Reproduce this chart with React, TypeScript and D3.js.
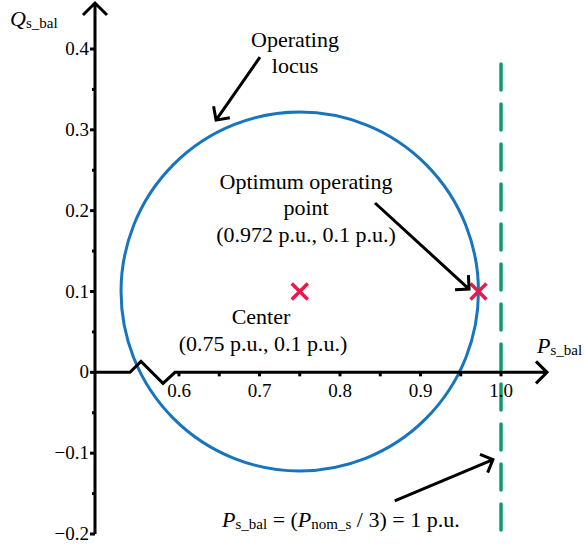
import React from "react";
import * as d3 from "d3";

// chart values
const centerPoint = [0.75, 0.1];
const optimumPoint = [0.972, 0.1];
const nominalP = 1.0;
const locusRadius = optimumPoint[0] - centerPoint[0];

const xTicks = [0.6, 0.7, 0.8, 0.9, 1.0];
const xTickLabels = ["0.6", "0.7", "0.8", "0.9", "1.0"];
const xMinorTicks = [0.65, 0.75, 0.85, 0.95];

const yTicks = [0.4, 0.3, 0.2, 0.1, 0, -0.1, -0.2];
const yTickLabels = ["0.4", "0.3", "0.2", "0.1", "0", "\u22120.1", "\u22120.2"];
const yMinorTicks = [0.35, 0.25, 0.15, 0.05, -0.05, -0.15];

const width = 584,
  height = 551;
const font = "Liberation Serif, Times New Roman, DejaVu Serif, serif";
const blue = "#1775c0";
const red = "#e8194b";
const green = "#0e9b72";

const x = d3.scaleLinear().domain([0.6, 1.0]).range([179, 501]);
const y = d3.scaleLinear().domain([-0.2, 0.4]).range([534, 49]);

const axisX = 95; // y axis sits left of the break
const axisY = y(0);

// line + open arrow head
const arrow = (x1: number, y1: number, x2: number, y2: number, len = 14) => {
  const a = Math.atan2(y1 - y2, x1 - x2);
  const h1 = [x2 + len * Math.cos(a - Math.PI / 4), y2 + len * Math.sin(a - Math.PI / 4)];
  const h2 = [x2 + len * Math.cos(a + Math.PI / 4), y2 + len * Math.sin(a + Math.PI / 4)];
  return `M${x1},${y1}L${x2},${y2}M${h1[0]},${h1[1]}L${x2},${y2}L${h2[0]},${h2[1]}`;
};

const Cross = ({ cx, cy }: { cx: number; cy: number }) => (
  <path
    d={`M${cx - 8},${cy - 8}L${cx + 8},${cy + 8}M${cx - 8},${cy + 8}L${cx + 8},${cy - 8}`}
    stroke={red}
    strokeWidth={3.5}
  />
);

export default function App() {
  const cx = x(centerPoint[0]);
  const cy = y(centerPoint[1]);
  const rx = x(centerPoint[0] + locusRadius) - cx;
  const ry = cy - y(centerPoint[1] + locusRadius);

  // x axis with break marker
  const xAxisPath =
    `M${axisX},${axisY}L130,${axisY}L141,${axisY - 11}L163,${axisY + 11}L175,${axisY}L547,${axisY}` +
    `M536,${axisY - 11}L547,${axisY}L536,${axisY + 11}`;
  const yAxisPath = `M${axisX},${y(-0.2)}L${axisX},3M83,15L${axisX},3L107,15`;

  return (
    <svg
      width={width}
      height={height}
      style={{ display: "block", position: "absolute", left: 0, top: 0, background: "#fff", fontFamily: font }}
    >
      {/* locus circle */}
      <ellipse cx={cx} cy={cy} rx={rx} ry={ry} fill="none" stroke={blue} strokeWidth={3} />

      {/* nominal P line */}
      <line
        x1={x(nominalP)}
        x2={x(nominalP)}
        y1={64}
        y2={535}
        stroke={green}
        strokeWidth={3.5}
        strokeDasharray="26 14"
        strokeLinecap="round"
      />

      {/* axes */}
      <path d={xAxisPath} fill="none" stroke="#000" strokeWidth={3} strokeLinejoin="miter" />
      <path d={yAxisPath} fill="none" stroke="#000" strokeWidth={3} />

      {xTicks.concat(xMinorTicks).map((t) => (
        <line key={"xt" + t} x1={x(t)} x2={x(t)} y1={axisY} y2={axisY + 4} stroke="#000" strokeWidth={3} />
      ))}
      {xTicks.map((t, i) => (
        <text key={"xl" + t} x={x(t)} y={397} fontSize={19} textAnchor="middle">
          {xTickLabels[i]}
        </text>
      ))}

      {yTicks.map((t) => (
        <line key={"yt" + t} x1={axisX - 5} x2={axisX} y1={y(t)} y2={y(t)} stroke="#000" strokeWidth={3} />
      ))}
      {yMinorTicks.map((t) => (
        <line key={"ym" + t} x1={axisX - 3} x2={axisX} y1={y(t)} y2={y(t)} stroke="#000" strokeWidth={3} />
      ))}
      {yTicks.map((t, i) => (
        <text key={"yl" + t} x={89} y={y(t) + 6} fontSize={19} textAnchor="end">
          {yTickLabels[i]}
        </text>
      ))}

      {/* axis titles */}
      <text x={10} y={26} fontSize={22}>
        <tspan fontStyle="italic">Q</tspan>
        <tspan fontSize={15} dy={2}>s_bal</tspan>
      </text>
      <text x={537} y={353} fontSize={22}>
        <tspan fontStyle="italic">P</tspan>
        <tspan fontSize={15} dy={2}>s_bal</tspan>
      </text>

      {/* points */}
      <Cross cx={cx} cy={cy} />
      <Cross cx={x(optimumPoint[0])} cy={y(optimumPoint[1])} />

      {/* annotations */}
      <g fontSize={22} textAnchor="middle">
        <text x={295} y={47}>Operating</text>
        <text x={295} y={73}>locus</text>
        <text x={306} y={189}>Optimum operating</text>
        <text x={306} y={215}>point</text>
        <text x={306} y={242}>(0.972 p.u., 0.1 p.u.)</text>
        <text x={261} y={324}>Center</text>
        <text x={263} y={351}>(0.75 p.u., 0.1 p.u.)</text>
      </g>
      <text x={222} y={527} fontSize={22}>
        <tspan fontStyle="italic">P</tspan>
        <tspan fontSize={15} dy={2}>s_bal</tspan>
        <tspan dy={-2}> = (</tspan>
        <tspan fontStyle="italic">P</tspan>
        <tspan fontSize={15} dy={2}>nom_s</tspan>
        <tspan dy={-2}> / 3) = 1 p.u.</tspan>
      </text>

      <g fill="none" stroke="#000" strokeWidth={3}>
        <path d={arrow(x(0.7006), y(0.39), x(0.646), y(0.312))} />
        <path d={arrow(x(0.8435), y(0.2095), x(0.9603), y(0.103))} />
        <path d={arrow(x(0.868), y(-0.159), x(0.99), y(-0.108))} />
      </g>
    </svg>
  );
}
